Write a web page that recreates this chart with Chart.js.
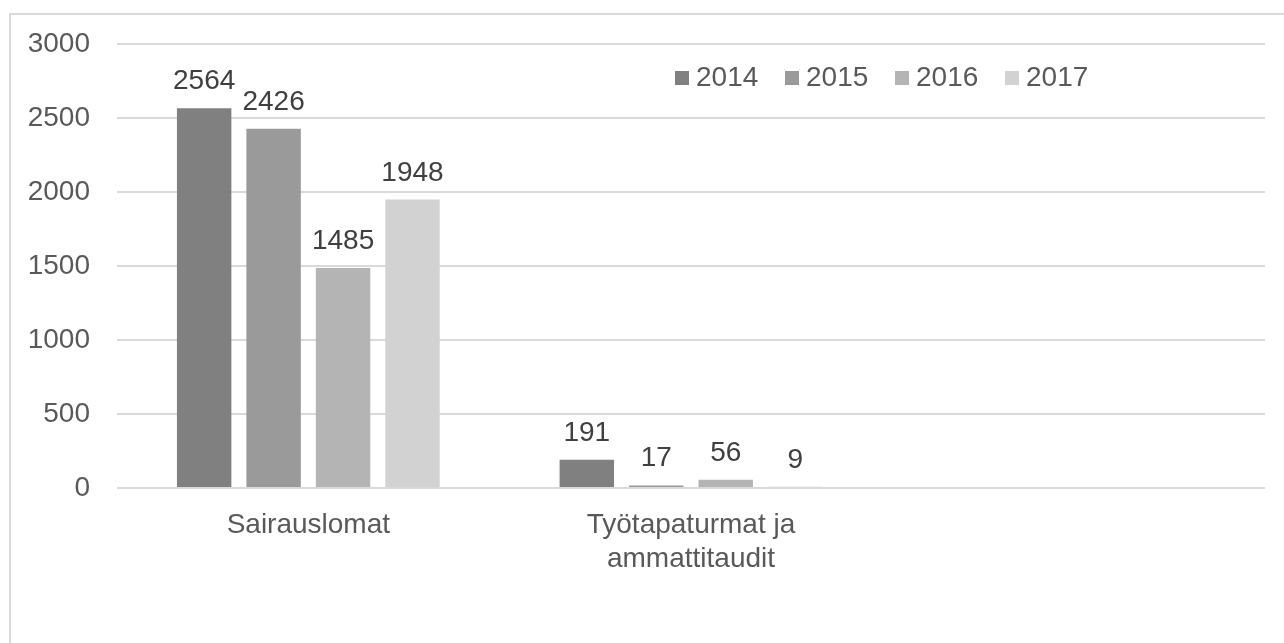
<!DOCTYPE html>
<html>
<head>
<meta charset="utf-8">
<script src="https://cdn.jsdelivr.net/npm/chart.js@4/dist/chart.umd.min.js"></script>
<style>
  html, body { margin: 0; padding: 0; background: #fff; }
  #wrap { position: relative; width: 1284px; height: 643px; overflow: hidden; }
  #frame { position: absolute; left: 9px; top: 13px; width: 1400px; height: 800px;
           border-top: 2px solid #d9d9d9; border-left: 2px solid #d9d9d9; }
  canvas { position: absolute; left: 0; top: 0; }
</style>
</head>
<body>
<div id="wrap">
  <div id="frame"></div>
  <canvas id="myChart" width="1284" height="643"></canvas>
</div>
<script>
(() => {
  'use strict'

  const categories = ['Sairauslomat', ['Työtapaturmat ja', 'ammattitaudit'], '']
  const years = ['2014', '2015', '2016', '2017']
  const v2014 = [2564, 191, null]
  const v2015 = [2426, 17, null]
  const v2016 = [1485, 56, null]
  const v2017 = [1948, 9, null]
  const yTicks = [0, 500, 1000, 1500, 2000, 2500, 3000]

  const colors = ['#808080', '#9a9a9a', '#b4b4b4', '#d2d2d2']
  const font = '"Liberation Sans", Arial, sans-serif'
  const fs = 28

  // value labels above bars
  const valueLabels = {
    id: 'valueLabels',
    afterDatasetsDraw (chart) {
      const c = chart.ctx
      c.save()
      c.font = fs + 'px ' + font
      c.fillStyle = '#404040'
      c.textAlign = 'center'
      c.textBaseline = 'alphabetic'
      chart.data.datasets.forEach((ds, i) => {
        chart.getDatasetMeta(i).data.forEach((bar, j) => {
          if (ds.data[j] == null) return
          c.fillText(String(ds.data[j]), bar.x, bar.y - 19)
        })
      })
      c.restore()
    }
  }

  // legend drawn inside the plot, top right
  const insideLegend = {
    id: 'insideLegend',
    afterDraw (chart) {
      const c = chart.ctx
      c.save()
      c.font = fs + 'px ' + font
      c.textBaseline = 'middle'
      c.textAlign = 'left'
      chart.data.datasets.forEach((ds, i) => {
        const x = 675 + i * 110
        c.fillStyle = ds.backgroundColor
        c.fillRect(x, 71, 14, 14)
        c.fillStyle = '#595959'
        c.fillText(ds.label, x + 21, 78)
      })
      c.restore()
    }
  }

  const series = [v2014, v2015, v2016, v2017]

  const ctx = document.getElementById('myChart')
  // eslint-disable-next-line no-unused-vars
  const myChart = new Chart(ctx, {
    type: 'bar',
    data: {
      labels: categories,
      datasets: years.map((y, i) => ({
        label: y,
        data: series[i],
        backgroundColor: colors[i],
        borderWidth: 0,
        barPercentage: 0.784,
        categoryPercentage: 0.726
      }))
    },
    options: {
      responsive: false,
      animation: false,
      layout: { padding: { top: 43, right: 19, left: 0, bottom: 0 } },
      scales: {
        x: {
          grid: { display: false },
          border: { display: false },
          ticks: {
            color: '#595959',
            font: { family: font, size: fs, lineHeight: 1.22 },
            padding: 12,
            maxRotation: 0,
            autoSkip: false
          },
          afterFit (s) { s.height = 155 }
        },
        y: {
          min: 0,
          max: 3000,
          afterBuildTicks (s) { s.ticks = yTicks.map(v => ({ value: v })) },
          grid: { color: '#d9d9d9', lineWidth: 2, drawTicks: false },
          border: { display: false },
          ticks: {
            color: '#595959',
            font: { family: font, size: fs },
            padding: 27,
            callback: v => String(v)
          },
          afterFit (s) { s.width = 117 }
        }
      },
      plugins: {
        legend: { display: false },
        tooltip: { enabled: false }
      }
    },
    plugins: [valueLabels, insideLegend]
  })
})()
</script>
</body>
</html>
